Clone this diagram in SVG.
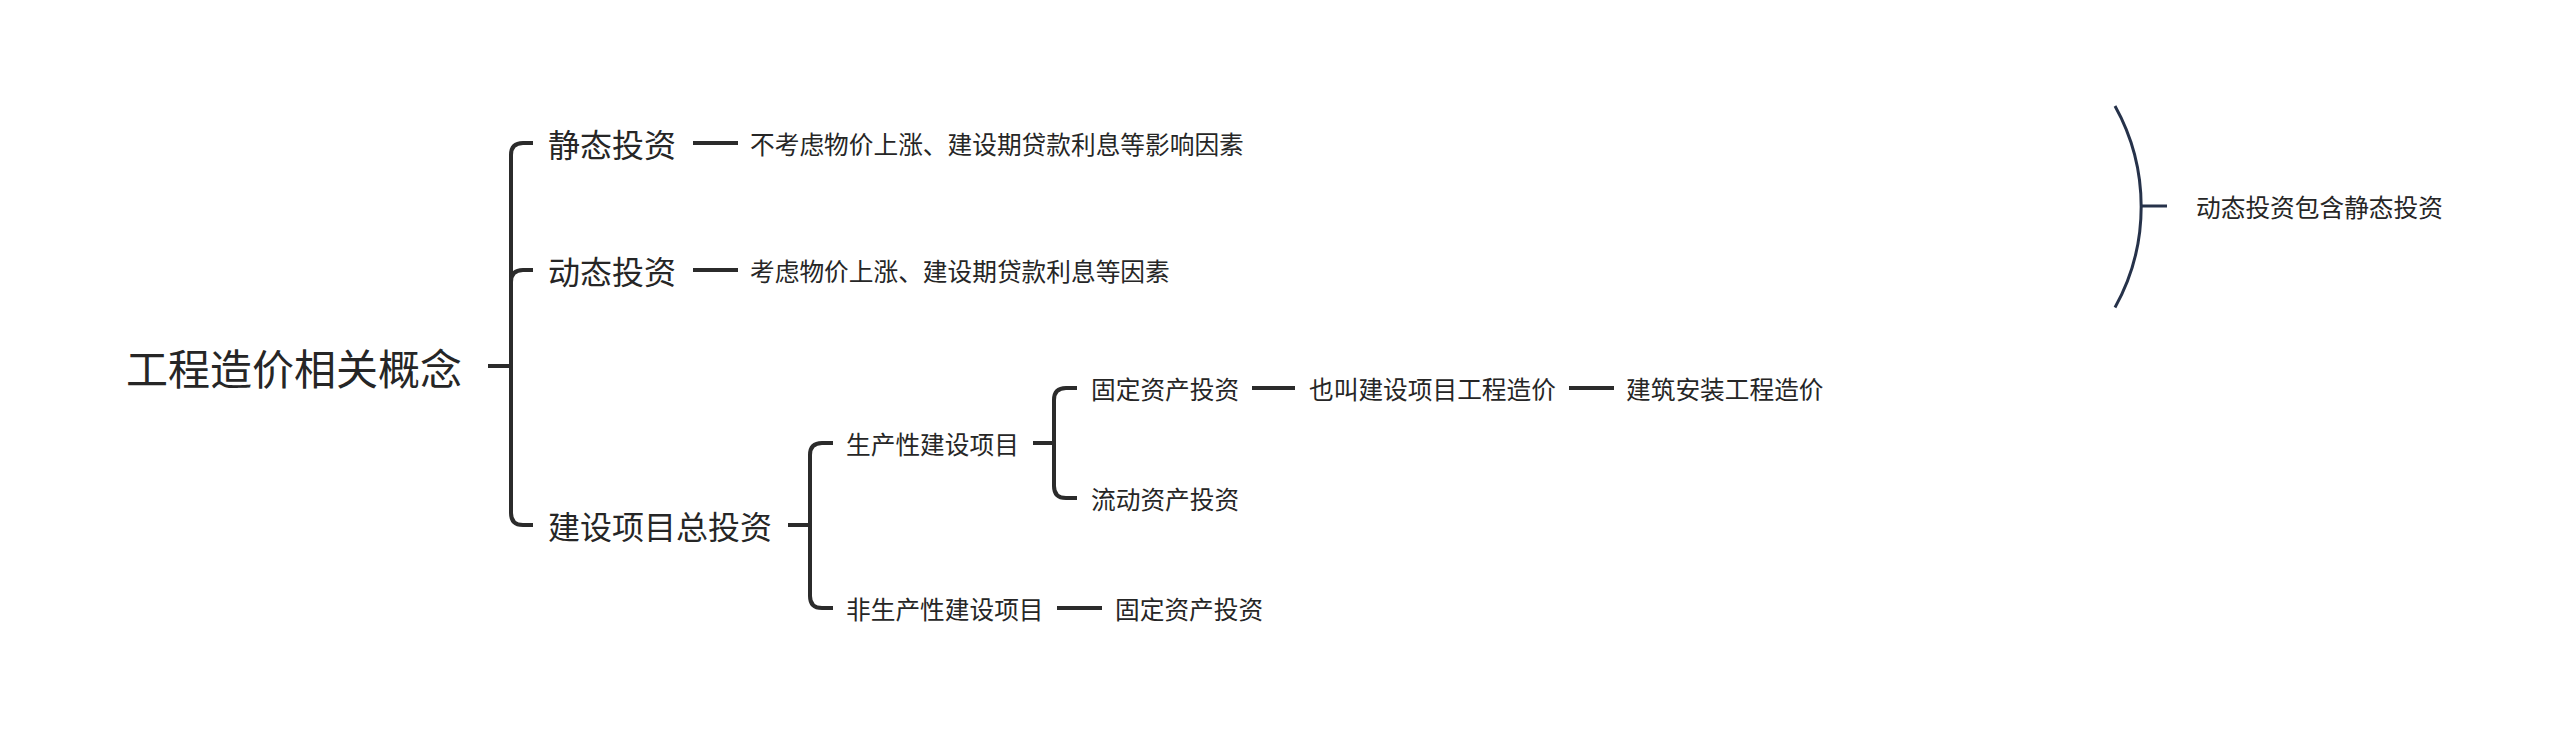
<svg xmlns="http://www.w3.org/2000/svg" width="2560" height="742" viewBox="0 0 2560 742">
<style>
  .t { font-family: "Noto Sans CJK SC", "Noto Sans", sans-serif; fill: #262626; dominant-baseline: central; }
  .root { font-size: 42px; }
  .l1 { font-size: 32px; }
  .l2 { font-size: 24.7px; }
  .ln { fill: none; stroke: #2b2b2b; stroke-width: 4; stroke-linecap: butt; }
  .sum { fill: none; stroke: #26324a; stroke-width: 3; }
</style>
<rect width="2560" height="742" fill="#ffffff"/>
<g id="connectors">
  <path class="ln" d="M488 366 H511"/>
  <path class="ln" d="M533 143 H523 Q511 143 511 155 V513 Q511 525 523 525 H533"/>
  <path class="ln" d="M533 270 H523 Q511 270 511 282"/>
  <path class="ln" d="M693 143 H738"/>
  <path class="ln" d="M693 270 H738"/>
  <path class="ln" d="M788 525 H810"/>
  <path class="ln" d="M833 443 H822 Q810 443 810 455 V596 Q810 608 822 608 H833"/>
  <path class="ln" d="M1033 443 H1054"/>
  <path class="ln" d="M1077 388 H1066 Q1054 388 1054 400 V486 Q1054 498 1066 498 H1077"/>
  <path class="ln" d="M1057 608 H1102"/>
  <path class="ln" d="M1252 388 H1295"/>
  <path class="ln" d="M1569 388 H1614"/>
  <path class="sum" d="M2115 106 A207 207 0 0 1 2115 307.5"/>
  <path class="sum" d="M2141 206 H2167"/>
</g>
<g id="node-root"><text class="t root" x="126" y="366">工程造价相关概念</text></g>
<g id="node-static"><text class="t l1" x="548" y="143">静态投资</text></g>
<g id="node-dynamic"><text class="t l1" x="548" y="270">动态投资</text></g>
<g id="node-total"><text class="t l1" x="548" y="525">建设项目总投资</text></g>
<g id="node-static-desc"><text class="t l2" x="750" y="143">不考虑物价上涨、建设期贷款利息等影响因素</text></g>
<g id="node-dynamic-desc"><text class="t l2" x="750" y="270">考虑物价上涨、建设期贷款利息等因素</text></g>
<g id="node-productive"><text class="t l2" x="846" y="443">生产性建设项目</text></g>
<g id="node-nonproductive"><text class="t l2" x="846" y="608">非生产性建设项目</text></g>
<g id="node-fixed1"><text class="t l2" x="1091" y="388">固定资产投资</text></g>
<g id="node-current"><text class="t l2" x="1091" y="498">流动资产投资</text></g>
<g id="node-alias"><text class="t l2" x="1309" y="388">也叫建设项目工程造价</text></g>
<g id="node-install"><text class="t l2" x="1626" y="388">建筑安装工程造价</text></g>
<g id="node-fixed2"><text class="t l2" x="1115" y="608">固定资产投资</text></g>
<g id="node-summary"><text class="t l2" x="2196" y="206">动态投资包含静态投资</text></g>
</svg>
